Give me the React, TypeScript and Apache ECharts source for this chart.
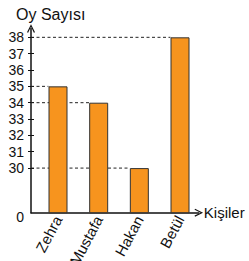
import React, { useEffect, useRef } from "react";
import * as echarts from "echarts";

const categories = ["Zehra", "Mustafa", "Hakan", "Betül"];
const votes = [35, 34, 30, 38];
const yTicks = [30, 31, 32, 33, 34, 35, 36, 37, 38];
const positions = categories.map((_, i) => i + 1);

const Y_MIN = 27.27;
const Y_MAX = 38.54;
const X_MIN = 0.336;
const X_MAX = 4.462;
const HALF_BAR = 0.234;

const FONT = "'Liberation Sans', Arial, sans-serif";
const INK = "#111";
const ARROW = "path://M0,10 L5,0 L10,10 L8.6,10.6 L5,3 L1.4,10.6 Z";

export default function App() {
  const ref = useRef<HTMLDivElement>(null);
  useEffect(() => {
    if (!ref.current) return;
    const chart = echarts.init(ref.current, null, { renderer: "svg" });
    const guideSeries = votes.map((v, i) => ({
      type: "line",
      data: [
        [X_MIN, v],
        [positions[i] - HALF_BAR, v],
      ],
      showSymbol: false,
      symbol: "none",
      silent: true,
      z: 1,
      lineStyle: { color: "#222", width: 1, type: [3, 2.5] },
    }));
    chart.setOption({
      animation: false,
      title: {
        text: "Oy Sayısı",
        left: 11,
        top: 1,
        textStyle: { fontFamily: FONT, fontSize: 16, fontWeight: "normal", color: INK },
      },
      grid: {
        left: 31,
        right: 50.2,
        top: 28.5,
        bottom: 48.3,
        containLabel: false,
        outerBoundsMode: "none",
      },
      xAxis: {
        type: "value",
        min: X_MIN,
        max: X_MAX,
        axisLine: {
          show: true,
          lineStyle: { color: INK, width: 1.5 },
          symbol: ["none", ARROW],
          symbolSize: [8, 9],
        },
        axisTick: { show: false },
        splitLine: { show: false },
        axisLabel: {
          customValues: positions,
          formatter: (v: number) => categories[Math.round(v) - 1] ?? "",
          rotate: 62,
          margin: 4,
          fontSize: 15,
          color: INK,
          fontFamily: FONT,
        },
        name: "Kişiler",
        nameLocation: "end",
        nameGap: 5,
        nameTextStyle: { fontSize: 15, color: INK, fontFamily: FONT, verticalAlign: "middle" },
      },
      yAxis: [
        {
          type: "value",
          min: Y_MIN,
          max: Y_MAX,
          axisLine: {
            show: true,
            lineStyle: { color: INK, width: 1.5 },
            symbol: ["none", ARROW],
            symbolSize: [8, 9],
          },
          axisTick: {
            show: true,
            customValues: yTicks,
            length: 3,
            lineStyle: { color: INK, width: 1 },
          },
          splitLine: { show: false },
          axisLabel: {
            customValues: [Y_MIN, ...yTicks],
            formatter: (v: number) => (v < 29 ? "{z|0}" : String(v)),
            margin: 7,
            fontSize: 14,
            color: INK,
            fontFamily: FONT,
            rich: {
              z: { fontSize: 14, color: INK, fontFamily: FONT, padding: [8, 0, 0, 0] },
            },
          },
        },
        {
          type: "value",
          position: "left",
          min: Y_MIN,
          max: Y_MAX,
          axisLine: { show: false },
          axisTick: {
            show: true,
            inside: true,
            customValues: yTicks,
            length: 3,
            lineStyle: { color: INK, width: 1 },
          },
          axisLabel: { show: false },
          splitLine: { show: false },
        },
      ],
      series: [
        ...guideSeries,
        {
          type: "bar",
          data: votes.map((v, i) => [positions[i], v]),
          barWidth: 19,
          z: 3,
          itemStyle: { color: "#F7941E", borderColor: "#333", borderWidth: 1 },
        },
      ],
    });
    return () => chart.dispose();
  }, []);
  return (
    <div
      ref={ref}
      style={{ position: "absolute", left: 0, top: 0, width: 249, height: 261 }}
    />
  );
}
